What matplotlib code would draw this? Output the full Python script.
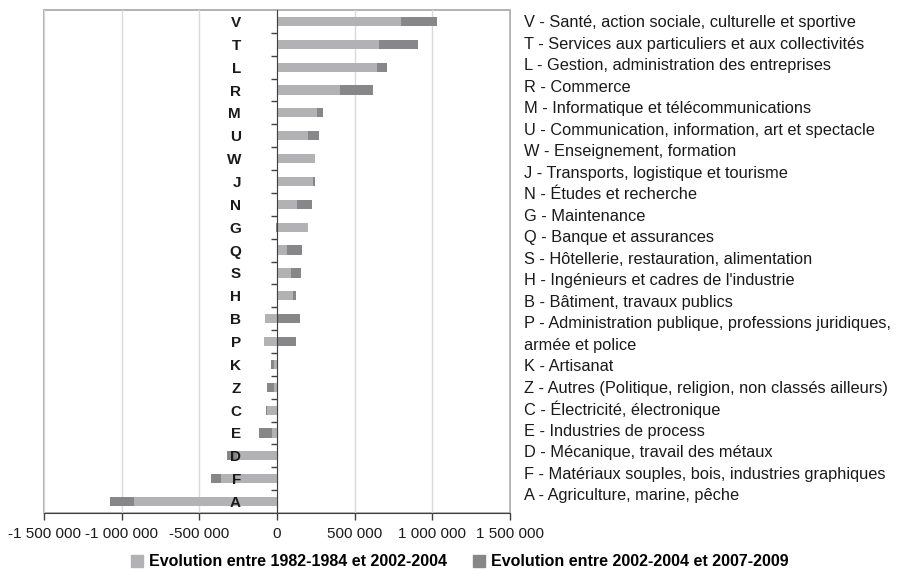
import numpy as np
import matplotlib
matplotlib.use('Agg')
import matplotlib.pyplot as plt
from matplotlib.patches import Patch, Rectangle
from matplotlib.ticker import FuncFormatter, FixedLocator

plt.rcParams['font.family'] = ['Liberation Sans', 'DejaVu Sans']

# Domain codes (top to bottom)
codes = ['V', 'T', 'L', 'R', 'M', 'U', 'W', 'J', 'N', 'G', 'Q',
         'S', 'H', 'B', 'P', 'K', 'Z', 'C', 'E', 'D', 'F', 'A']

# Full descriptions shown on the right
descriptions = [
    "V - Santé, action sociale, culturelle et sportive",
    "T - Services aux particuliers et aux collectivités",
    "L - Gestion, administration des entreprises",
    "R - Commerce",
    "M - Informatique et télécommunications",
    "U - Communication, information, art et spectacle",
    "W - Enseignement, formation",
    "J - Transports, logistique et tourisme",
    "N - Études et recherche",
    "G - Maintenance",
    "Q - Banque et assurances",
    "S - Hôtellerie, restauration, alimentation",
    "H - Ingénieurs et cadres de l'industrie",
    "B - Bâtiment, travaux publics",
    "P - Administration publique, professions juridiques,",
    "armée et police",
    "K - Artisanat",
    "Z - Autres (Politique, religion, non classés ailleurs)",
    "C - Électricité, électronique",
    "E - Industries de process",
    "D - Mécanique, travail des métaux",
    "F - Matériaux souples, bois, industries graphiques",
    "A - Agriculture, marine, pêche",
]

# Evolution 1982-1984 -> 2002-2004
evol_1 = [796000, 655000, 642000, 404000, 256000, 198000, 243000, 230000,
          127000, 198000, 62000, 88000, 101000, -79000, -86000, -21000,
          -21000, -66000, -34000, -259000, -362000, -923000]
# Evolution 2002-2004 -> 2007-2009
evol_2 = [236000, 251000, 64000, 212000, 38000, 70000, 2000, 13000,
          96000, -7000, 97000, 65000, 19000, 146000, 120000, -20000,
          -45000, -2000, -84000, -65000, -65000, -154000]

series_names = ['Evolution entre 1982-1984 et 2002-2004',
                'Evolution entre 2002-2004 et 2007-2009']
colours = ['#b2b2b5', '#87878a']

x_ticks = [-1500000, -1000000, -500000, 0, 500000, 1000000, 1500000]

W, H = 906, 571
fig = plt.figure(figsize=(W / 100, H / 100), dpi=100)
ax = fig.add_axes([44 / W, (H - 513) / H, 466 / W, 503 / H])

y = np.arange(len(codes))
e1 = np.array(evol_1, dtype=float)
e2 = np.array(evol_2, dtype=float)
# Excel-style stacking: positives on positives, negatives on negatives
left2 = np.where(np.sign(e1) == np.sign(e2), e1, 0)

ax.barh(y, e1, height=0.4, color=colours[0], zorder=3)
ax.barh(y, e2, left=left2, height=0.4, color=colours[1], zorder=3)

ax.set_xlim(-1500000, 1500000)
ax.set_ylim(len(codes) - 0.5, -0.5)

# x axis
ax.set_xticks(x_ticks)
ax.xaxis.set_major_formatter(FuncFormatter(lambda v, p: f"{int(v):,}".replace(',', ' ')))
ax.tick_params(axis='x', direction='out', length=5, width=1, color='#404040',
               labelsize=11, pad=5, labelcolor='#1a1a1a')
ax.grid(axis='x', color='#d9d9d9', lw=1, zorder=0)

# y axis sits on zero, letters drawn over the bars
for s in ['top', 'right']:
    ax.spines[s].set_visible(False)
ax.spines['left'].set_position(('data', 0))
ax.spines['left'].set_color('#404040')
ax.spines['left'].set_zorder(4)
ax.spines['bottom'].set_color('#404040')
ax.yaxis.set_zorder(5)
ax.set_yticks(y)
ax.set_yticklabels(codes, fontweight='bold', fontsize=11, color='#1a1a1a')
ax.tick_params(axis='y', which='major', length=0, pad=26)
ax.yaxis.set_minor_locator(FixedLocator(np.arange(len(codes) - 1) + 0.5))
ax.tick_params(axis='y', which='minor', direction='out', length=4, width=1, color='#404040')

# plot area frame
ax.add_patch(Rectangle((0, 0), 1, 1, transform=ax.transAxes, fill=False,
                       ec='#a6a6a6', lw=1.2, zorder=1, clip_on=False))

# descriptions on the right
for i, txt in enumerate(descriptions):
    fig.text(524 / W, 1 - (22.7 + i * 21.5) / H, txt, fontsize=11.8,
             va='center', ha='left', color='#1a1a1a')

handles = [Patch(color=c, label=n) for c, n in zip(colours, series_names)]
fig.legend(handles=handles, loc='center', bbox_to_anchor=(460 / W, 1 - 562 / H),
           ncol=2, frameon=False, handlelength=0.75, handleheight=0.75,
           handletextpad=0.4, columnspacing=1.6,
           prop={'weight': 'bold', 'size': 11.5})

fig.savefig('out.png', dpi=100)
